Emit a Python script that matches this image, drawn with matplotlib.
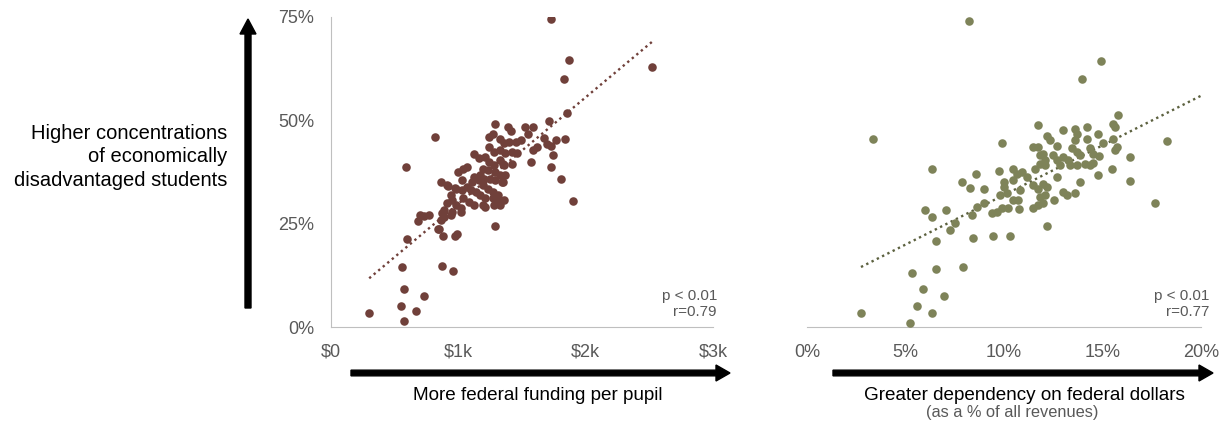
import matplotlib
matplotlib.use("Agg")
import matplotlib.pyplot as plt
import numpy as np

plt.rcParams['font.family'] = ['Liberation Sans', 'DejaVu Sans']

# federal funding per pupil ($k) vs share of economically disadvantaged students (%)
funding_k = [
    1.73, 1.87, 1.83, 2.52, 1.85, 0.82, 0.59, 1.84, 1.71, 1.74, 1.73, 1.81, 1.90, 1.57, 1.29,
    0.60, 0.84, 0.88, 0.97, 0.99, 0.56, 0.87, 0.96, 0.57, 0.73, 0.55, 0.67, 0.30, 0.57,
    0.68, 0.70, 0.77, 0.86, 0.92, 0.97, 1.12,
    1.29, 1.39, 1.41, 1.52, 1.59, 1.55, 1.67, 1.73, 1.77, 1.59, 1.62, 1.42, 1.35, 1.35, 1.37,
    1.36, 1.33, 1.28, 1.21,
    1.24, 1.27, 1.33, 1.36, 1.40, 1.45, 1.49, 1.24, 1.28, 1.33, 1.37, 1.42, 1.46, 1.70, 1.16,
    1.21, 1.24, 1.28, 1.33, 1.36, 1.19, 1.23, 1.29, 1.33, 1.04, 1.00, 1.07, 1.17, 1.16, 1.20,
    1.12, 1.03, 1.11, 1.25, 1.29, 1.34, 0.91, 1.07, 1.10, 1.14, 1.19, 1.23, 1.27, 0.98, 1.03,
    1.17, 1.21, 1.27, 1.31, 1.32, 0.94, 0.95, 1.04, 1.08, 0.91, 0.98, 1.02, 1.12, 1.19, 0.89,
    0.95, 1.02, 0.87, 0.94, 0.73, 0.86, 0.89, 0.85,
]
disadv_a = [
    74.4, 64.7, 60.1, 63.0, 51.8, 45.9, 38.7, 45.5, 49.8, 41.7, 38.7, 35.7, 30.4, 40.0, 24.5,
    21.2, 23.6, 21.9, 22.1, 22.4, 14.4, 14.8, 13.5, 9.3, 7.6, 5.2, 3.9, 3.5, 1.4,
    25.7, 27.1, 27.1, 35.0, 34.2, 33.6, 41.8,
    49.2, 48.4, 47.3, 48.4, 48.4, 46.8, 45.8, 43.8, 45.2, 42.9, 43.6, 39.5, 39.5, 35.1, 36.7,
    30.7, 29.5, 29.5, 29.1,
    46.0, 46.6, 45.5, 44.4, 44.8, 44.8, 45.3, 43.6, 42.4, 42.8, 42.0, 42.4, 42.0, 44.2, 40.8,
    41.1, 39.9, 39.1, 40.3, 39.1, 38.3, 37.9, 37.5, 36.7, 38.3, 37.5, 38.7, 36.7, 35.5, 35.9,
    36.3, 35.5, 35.1, 35.9, 35.5, 35.1, 34.3, 33.9, 33.1, 32.7, 34.3, 33.5, 32.7, 33.5, 33.1,
    31.9, 31.1, 31.1, 31.9, 30.3, 31.9, 30.7, 31.1, 30.3, 29.9, 29.5, 28.7, 29.5, 29.5, 28.3,
    27.9, 27.9, 27.5, 27.1, 26.8, 25.8, 26.6, 23.8,
]

# federal dollars as a share of all revenues (%) vs disadvantaged students (%)
federal_share = [
    8.22, 14.92, 13.94, 15.80, 3.37, 18.26, 6.36, 16.40, 16.40, 17.65, 9.88, 12.17, 7.85, 8.29,
    8.56, 9.00, 5.99, 6.36, 7.04, 6.53, 7.26, 7.51, 8.45, 9.44, 10.32, 5.31, 6.53, 7.94, 5.90,
    6.97, 5.57, 6.36, 2.74, 5.21, 9.73,
    8.39, 8.61, 8.98, 9.37, 9.63, 9.88, 9.80, 10.14, 10.47, 10.73, 10.22, 10.76, 10.00, 10.00,
    10.47, 10.47, 10.64, 10.90, 11.15, 10.81, 11.49, 11.74, 12.00, 11.83, 12.08, 11.49, 11.74,
    12.00, 12.17, 12.54, 13.01, 13.18, 13.60, 13.86, 12.67, 11.57, 11.83, 12.08, 11.49, 11.74,
    12.00, 11.74, 12.17, 12.34, 12.67, 11.83, 12.08, 12.50, 12.67, 12.84, 13.01, 13.27, 12.98,
    13.60, 13.69, 13.60, 14.20, 14.20, 14.76, 13.44, 13.69, 13.86, 13.35, 13.69, 14.37, 14.53,
    14.11, 14.37, 14.53, 14.76, 14.84, 15.04, 15.47, 15.55, 15.63, 15.55, 15.72, 15.63,
]
disadv_b = [
    74.0, 64.3, 60.1, 51.4, 45.5, 45.1, 38.3, 41.2, 35.4, 30.0, 44.6, 24.5, 35.0, 33.7,
    37.0, 33.3, 28.3, 26.5, 28.3, 20.8, 23.4, 25.2, 21.5, 21.9, 21.9, 13.1, 14.0, 14.4, 9.3,
    7.6, 5.2, 3.5, 3.5, 1.0, 37.8,
    27.1, 29.1, 29.9, 27.5, 27.9, 28.7, 31.9, 32.3, 30.7, 30.7, 28.7, 28.5, 35.1, 33.9,
    35.5, 38.3, 37.1, 37.5, 36.3, 33.1, 28.7, 29.5, 29.9, 31.5, 31.9, 34.3, 33.5,
    34.7, 33.9, 30.8, 32.7, 31.9, 32.4, 35.1, 36.3, 38.3, 39.5, 39.1, 43.6, 43.6,
    41.9, 48.8, 46.1, 45.2, 43.7, 41.5, 40.3, 41.5, 40.3, 39.1, 41.1, 40.3, 47.6,
    48.0, 46.8, 45.2, 48.4, 45.6, 46.6, 43.2, 42.4, 41.5, 39.1, 39.1, 43.2, 41.9,
    39.5, 39.1, 39.7, 36.7, 41.3, 44.4, 38.3, 49.2, 48.4, 45.6, 43.6, 42.8,
]

y_ticks = [0, 25, 50, 75]
funding_ticks = [0, 1, 2, 3]
funding_labels = ['$0', '$1k', '$2k', '$3k']
share_ticks = [0, 5, 10, 15, 20]
share_labels = ['0%', '5%', '10%', '15%', '20%']

brown = '#70403A'
olive = '#7E8359'
olive_dark = '#5C613F'
grey_txt = '#595959'
spine_c = '#BFBFBF'

W, H = 1226, 429
fig = plt.figure(figsize=(W / 100, H / 100), dpi=100)

def box(x0, x1, y0, y1):
    return [x0 / W, 1 - y1 / H, (x1 - x0) / W, (y1 - y0) / H]

ax1 = fig.add_axes(box(331, 713, 17, 327))
ax2 = fig.add_axes(box(807, 1201, 17, 327))

for ax in (ax1, ax2):
    ax.set_ylim(0, 75)
    for s in ('top', 'right'):
        ax.spines[s].set_visible(False)
    ax.spines['bottom'].set_color(spine_c)
    ax.spines['left'].set_color(spine_c)
    ax.tick_params(length=0, labelsize=13, labelcolor=grey_txt, pad=12)

# left panel
ax1.scatter(funding_k, disadv_a, s=38, color=brown, linewidths=0, zorder=3)
m, b = np.polyfit(funding_k, disadv_a, 1)
xs = np.array([min(funding_k), max(funding_k)])
ax1.plot(xs, m * xs + b, color=brown, lw=1.7, linestyle=(0, (1, 1.5)), zorder=2)
ax1.set_xlim(0, 3)
ax1.set_xticks(funding_ticks)
ax1.set_xticklabels(funding_labels)
ax1.set_yticks(y_ticks)
ax1.set_yticklabels([f'{v}%' for v in y_ticks])

# right panel
ax2.scatter(federal_share, disadv_b, s=38, color=olive, linewidths=0, zorder=3)
m2, b2 = np.polyfit(federal_share, disadv_b, 1)
xs2 = np.array([min(federal_share), 20])
ax2.plot(xs2, m2 * xs2 + b2, color=olive_dark, lw=1.7, linestyle=(0, (1, 1.5)), zorder=2)
ax2.set_xlim(0, 20)
ax2.set_xticks(share_ticks)
ax2.set_xticklabels(share_labels)
ax2.set_yticks([])
ax2.spines['left'].set_visible(False)

# overlay in pixel units for arrows and captions
ov = fig.add_axes([0, 0, 1, 1])
ov.set_xlim(0, W)
ov.set_ylim(H, 0)
ov.axis('off')

ov.arrow(248, 308, 0, -289, width=6, head_width=16, head_length=15,
         length_includes_head=True, color='black')
ov.arrow(351, 373, 379, 0, width=5.7, head_width=16, head_length=14,
         length_includes_head=True, color='black')
ov.arrow(833, 373, 380, 0, width=5.7, head_width=16, head_length=14,
         length_includes_head=True, color='black')

ov.text(227, 157, 'Higher concentrations\nof economically\ndisadvantaged students',
        ha='right', va='center', fontsize=14.5, linespacing=1.3, color='black')
ov.text(538, 395, 'More federal funding per pupil', ha='center', va='center',
        fontsize=13.6, color='black')
ov.text(1024, 395, 'Greater dependency on federal dollars', ha='center', va='center',
        fontsize=13.6, color='black')
ov.text(1012, 413, '(as a % of all revenues)', ha='center', va='center',
        fontsize=11.8, color=grey_txt)

ov.text(717, 304, 'p < 0.01\nr=0.79', ha='right', va='center', fontsize=11,
        color=grey_txt, linespacing=1.2)
ov.text(1209, 304, 'p < 0.01\nr=0.77', ha='right', va='center', fontsize=11,
        color=grey_txt, linespacing=1.2)

fig.savefig('out.png', dpi=100)
